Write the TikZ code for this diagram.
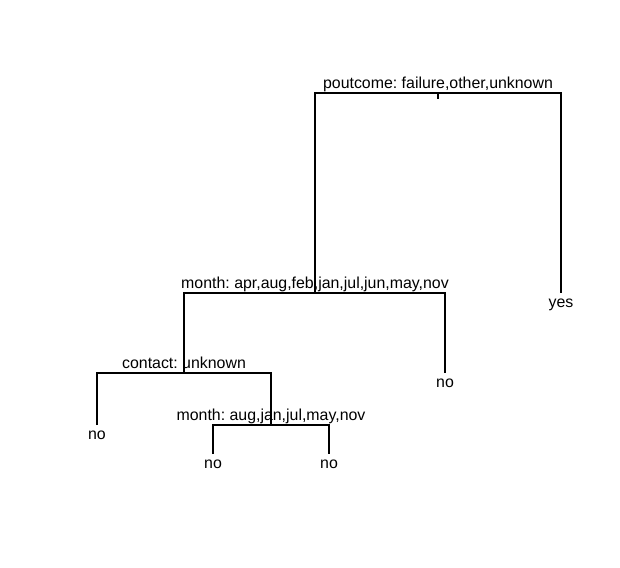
\documentclass[tikz,border=0pt]{standalone}
\usepackage{fontspec}
\setmainfont{Liberation Sans}
\frenchspacing
\begin{document}
\begin{tikzpicture}[x=1pt,y=-1pt,
  edge/.style={draw=black,line width=1.1pt},
  split/.style={anchor=base,inner sep=0pt,yshift=4.5pt,font=\fontsize{15.9}{19}\selectfont},
  leaf/.style={anchor=base,inner sep=0pt,yshift=-14.5pt,font=\fontsize{15.9}{19}\selectfont}]
\useasboundingbox (0,0) rectangle (620,567);
% split points and leaf ends of the tree
\coordinate (root) at (438,93);
\coordinate (m1)   at (315,293);
\coordinate (yes)  at (561,293);
\coordinate (c1)   at (184,373);
\coordinate (no1)  at (445,373);
\coordinate (no2)  at (97,425);
\coordinate (m2)   at (271,425);
\coordinate (no3)  at (213,454);
\coordinate (no4)  at (329,454);
\coordinate (rootstub) at (438,99);
% branches
\draw[edge] (root) -- (rootstub);
\draw[edge] (m1) |- (root) -| (yes);
\draw[edge] (c1) |- (m1) -| (no1);
\draw[edge] (no2) |- (c1) -| (m2);
\draw[edge] (no3) |- (m2) -| (no4);
% split labels
\node[split] (lroot) at (root) {poutcome: failure,other,unknown};
\node[split] (lm1) at (m1) {month: apr,aug,feb,jan,jul,jun,may,nov};
\node[split] (lc1) at (c1) {contact: unknown};
\node[split] (lm2) at (m2) {month: aug,jan,jul,may,nov};
% leaf labels
\node[leaf] (lyes) at (yes) {yes};
\node[leaf] (lno1) at (no1) {no};
\node[leaf] (lno2) at (no2) {no};
\node[leaf] (lno3) at (no3) {no};
\node[leaf] (lno4) at (no4) {no};
\end{tikzpicture}
\end{document}
